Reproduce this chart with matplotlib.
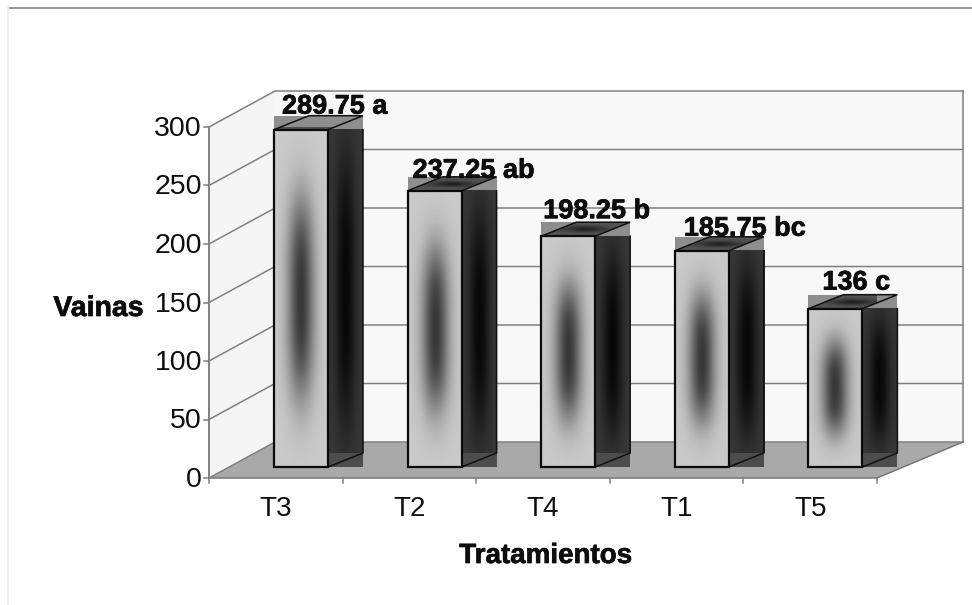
import numpy as np
import matplotlib
matplotlib.use("Agg")
import matplotlib.pyplot as plt
import matplotlib.patheffects as pe
from matplotlib.lines import Line2D
from matplotlib.patches import Polygon, Rectangle

categories = ["T3", "T2", "T4", "T1", "T5"]
vainas = [289.75, 237.25, 198.25, 185.75, 136]
significance = ["a", "ab", "b", "bc", "c"]
value_ticks = [0, 50, 100, 150, 200, 250, 300]

WIDTH, HEIGHT = 972, 605
# Front plane of the 3D box, in pixels
LEFT, RIGHT, BASE, TOP = 209, 877, 478, 127
px_x = len(categories) / (RIGHT - LEFT)
px_y = 300 / (BASE - TOP)

plt.rcParams["font.family"] = ["Liberation Sans", "DejaVu Sans"]
fig = plt.figure(figsize=(WIDTH / 100, HEIGHT / 100), dpi=100, facecolor="white")
ax = fig.add_axes([LEFT / WIDTH, 1 - BASE / HEIGHT,
                   (RIGHT - LEFT) / WIDTH, (BASE - TOP) / HEIGHT])
ax.set_axis_off()

# Depth of the box (the back wall is a little wider in perspective) and of each bar
box_dx, box_dy = 66 * px_x, 36 * px_y
back_right = len(categories) + 86 * px_x
bar_dx, bar_dy = 35 * px_x, 14 * px_y
bar_left, bar_width = 0.4865, 54 * px_x
bar_base = 11 * px_y
perspective = 0.995
n = len(categories)
GRID = "#808080"
INK = "#0d0d0d"
heavy = [pe.withStroke(linewidth=0.5, foreground=INK)]

# Walls and floor
ax.add_patch(Polygon([(box_dx, box_dy), (back_right, box_dy), (back_right, 300 + box_dy), (box_dx, 300 + box_dy)],
                     fc="#f8f8f8", ec="none", zorder=1, clip_on=False))
ax.add_patch(Polygon([(0, 0), (box_dx, box_dy), (box_dx, 300 + box_dy), (0, 300)],
                     fc="#f5f5f5", ec="none", zorder=1, clip_on=False))
ax.add_patch(Polygon([(0, 0), (n, 0), (back_right, box_dy), (box_dx, box_dy)],
                     fc="#a9a9a9", ec="none", zorder=2, clip_on=False))

for v in value_ticks:
    ax.plot([0, box_dx, back_right], [v, v + box_dy, v + box_dy], color=GRID,
            lw=1.1, zorder=2, clip_on=False)
    ax.plot([-5 * px_x, 0], [v, v], color=GRID, lw=1.1, zorder=2, clip_on=False)
    ax.text(-7 * px_x, v - 2 * px_y, str(v), ha="right", va="center", fontsize=20.5,
            color=INK, clip_on=False)
ax.plot([0, 0], [0, 300], color=GRID, lw=1.4, zorder=2, clip_on=False)
ax.plot([back_right] * 2, [box_dy, 300 + box_dy], color=GRID, lw=1.1, zorder=2, clip_on=False)
ax.plot([0, n, back_right], [0, 0, box_dy], color="#777777", lw=1.1, zorder=3, clip_on=False)
for i in range(n + 1):
    ax.plot([i, i], [0, -5 * px_y], color=GRID, lw=1.1, zorder=3, clip_on=False)

# Shading of one bar: a soft dark core, lighter towards the edges and both ends
u = np.linspace(-1, 1, 80)
w = np.linspace(-1, 1, 240)
U, W = np.meshgrid(u, w)
core = np.exp(-(U / 0.5) ** 2) * np.exp(-np.abs(W / 0.6) ** 3)
front_shade = 0.79 - 0.57 * core
side_core = np.exp(-(U / 0.6) ** 2) * np.exp(-np.abs(W / 0.85) ** 3)
side_shade = 0.22 - 0.19 * side_core
top_shade = 0.33 - 0.2 * np.exp(-(U / 0.5) ** 2) * np.exp(-(W / 0.45) ** 2)

label_lift = [16, 13, 18, 15, 19]
label_shift = [8, 5, 2, 9, 14]

for i, (name, value, mark) in enumerate(zip(categories, vainas, significance)):
    x0 = i + bar_left
    x1 = x0 + bar_width
    y0 = bar_base
    y1 = bar_base + value * perspective

    # Corners of the bounding box around the top and the foot of the bar
    ax.add_patch(Rectangle((x0, y1), bar_width + bar_dx, bar_dy, fc="#8e8e8e", ec="none",
                           zorder=4, clip_on=False))
    ax.add_patch(Rectangle((x1, y0), bar_dx, bar_dy, fc="#4c4c4c", ec="none",
                           zorder=4, clip_on=False))

    # Front and side faces
    ax.imshow(front_shade, extent=(x0, x1, y0, y1), cmap="gray", vmin=0, vmax=1,
              aspect="auto", zorder=5, interpolation="bilinear", clip_on=False)
    ax.imshow(side_shade, extent=(x1, x1 + bar_dx, y0 + bar_dy, y1),
              cmap="gray", vmin=0, vmax=1, aspect="auto", zorder=5,
              interpolation="bilinear", clip_on=False)
    ax.plot([x1, x1 + bar_dx, x1 + bar_dx], [y0, y0 + bar_dy, y1], color="#101010",
            lw=1.1, zorder=6, clip_on=False)

    # Top face
    top_outline = Polygon([(x0, y1), (x1, y1), (x1 + bar_dx, y1 + bar_dy), (x0 + bar_dx, y1 + bar_dy)],
                          fc="none", ec="#101010", lw=1.1, zorder=6, clip_on=False)
    ax.add_patch(top_outline)
    top = ax.imshow(top_shade, extent=(x0, x1 + bar_dx, y1, y1 + bar_dy), cmap="gray",
                    vmin=0, vmax=1, aspect="auto", zorder=5, interpolation="bilinear")
    top.set_clip_path(top_outline)
    ax.add_patch(Rectangle((x0, y0), bar_width, value * perspective, fc="none", ec="#0a0a0a",
                           lw=1.6, zorder=7, clip_on=False))

    ax.annotate(f"{value:g} {mark}", (x0, y1), xytext=(label_shift[i] * 0.72, label_lift[i] * 0.72),
                textcoords="offset points", ha="left", va="baseline", fontsize=19.5,
                fontweight="bold", color=INK, zorder=8, annotation_clip=False, path_effects=heavy)
    ax.text(i + 0.5, -31 * px_y, name, ha="center", va="center",
            fontsize=20, color=INK, clip_on=False)

ax.set_xlim(0, n)
ax.set_ylim(0, 300)

fig.text(98.5 / WIDTH, 1 - 309 / HEIGHT, "Vainas", ha="center", va="center",
         fontsize=20.5, fontweight="bold", color=INK, path_effects=heavy)
fig.text(545.5 / WIDTH, 1 - 556 / HEIGHT, "Tratamientos", ha="center", va="center",
         fontsize=20, fontweight="bold", color=INK, path_effects=heavy)

# Outer chart frame
fig.add_artist(Line2D([8 / WIDTH, 1], [1 - 7.5 / HEIGHT] * 2, color="#777777", lw=1.1))
fig.add_artist(Line2D([8 / WIDTH] * 2, [0, 1 - 7.5 / HEIGHT], color="#eeeeee", lw=1.5))

fig.savefig("out.png", dpi=100)
